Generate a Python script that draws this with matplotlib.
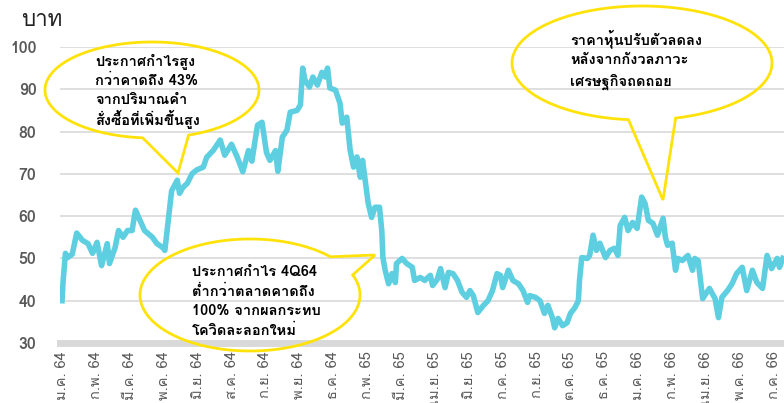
import numpy as np
import matplotlib
matplotlib.use('Agg')
import matplotlib.pyplot as plt
from matplotlib.patches import Polygon

# trading day index and closing price (baht)
days = [0, 1, 3, 5, 9, 13, 18, 23, 27, 31, 35, 40, 42, 47, 50, 54, 58, 62, 65, 69,
        73, 80, 84, 89, 91, 94, 97, 102, 104, 107, 111, 115, 119, 125, 128, 134, 140, 144, 150, 155,
        160, 165, 168, 173, 177, 181, 184, 189, 191, 195, 199, 202, 208, 211, 213, 215, 219, 222, 226, 230,
        233, 235, 237, 242, 246, 248, 252, 255, 258, 261, 264, 266, 271, 274, 277, 281, 283, 284, 286, 289,
        292, 295, 296, 301, 305, 310, 312, 317, 321, 326, 328, 332, 335, 339, 342, 346, 350, 354, 358, 361,
        364, 368, 373, 377, 381, 385, 388, 390, 395, 399, 404, 408, 412, 414, 419, 423, 427, 430, 434, 436,
        439, 443, 447, 450, 454, 457, 458, 460, 465, 467, 470, 473, 476, 481, 485, 489, 492, 494, 498, 501,
        505, 509, 513, 516, 519, 523, 527, 532, 534, 536, 540, 543, 545, 549, 554, 558, 560, 563, 567, 573,
        578, 581, 584, 589, 593, 597, 602, 606, 611, 615, 620, 624, 628, 633, 635, 638]
price = [40.0, 44.8, 51.2, 50.2, 51.0, 56.0, 54.3, 53.5, 51.2, 53.8, 48.3, 53.5, 48.8, 52.6, 56.6, 55.0, 56.6, 56.6, 61.4, 59.0,
         56.6, 55.0, 53.5, 52.6, 51.9, 59.0, 66.0, 68.5, 65.4, 66.8, 67.8, 70.0, 70.9, 71.6, 73.9, 75.6, 78.0, 74.4, 77.0, 74.0,
         70.5, 75.5, 73.0, 81.5, 82.2, 75.0, 73.2, 75.5, 70.6, 78.7, 80.3, 84.6, 85.0, 86.3, 95.0, 92.2, 90.5, 92.9, 91.0, 94.0,
         92.9, 95.0, 90.3, 89.8, 86.7, 82.0, 83.4, 75.6, 71.6, 74.0, 69.2, 73.2, 63.0, 59.7, 62.1, 62.1, 56.6, 50.2, 47.2, 44.0,
         46.4, 44.3, 48.8, 50.0, 48.8, 47.9, 44.8, 45.5, 44.8, 46.0, 43.6, 45.0, 47.6, 43.1, 46.7, 46.4, 44.8, 42.0, 40.8, 42.4,
         41.2, 37.2, 38.9, 40.0, 42.4, 46.4, 46.0, 43.1, 47.2, 44.8, 44.0, 42.4, 39.6, 41.2, 40.8, 40.0, 37.0, 38.9, 36.0, 33.6,
         35.8, 34.1, 34.8, 37.0, 38.4, 40.0, 44.8, 50.2, 50.0, 50.7, 55.5, 51.9, 53.6, 50.2, 51.9, 52.4, 50.7, 57.8, 59.7, 56.6,
         58.5, 57.1, 64.5, 63.0, 59.0, 58.3, 55.5, 59.5, 55.0, 53.1, 53.6, 47.2, 50.0, 49.5, 50.7, 47.2, 50.0, 49.5, 40.5, 42.9,
         40.5, 36.0, 40.8, 42.4, 44.0, 46.4, 47.9, 42.4, 47.2, 44.3, 42.9, 50.7, 47.6, 50.0, 47.9, 50.0]

tick_days = list(range(0, 631, 30))
tick_labels = ['ม.ค. 64', 'ก.พ. 64', 'มี.ค. 64', 'พ.ค. 64', 'มิ.ย. 64', 'ส.ค. 64', 'ก.ย. 64', 'พ.ย. 64',
               'ธ.ค. 64', 'ก.พ. 65', 'มี.ค. 65', 'เม.ย. 65', 'มิ.ย. 65', 'ก.ค. 65', 'ก.ย. 65', 'ต.ค. 65',
               'ธ.ค. 65', 'ม.ค. 66', 'ก.พ. 66', 'เม.ย. 66', 'พ.ค. 66', 'ก.ค. 66']

notes = [
    ['ประกาศกำไรสูง', 'กว่าคาดถึง 43%', 'จากปริมาณคำ', 'สั่งซื้อที่เพิ่มขึ้นสูง'],
    ['ประกาศกำไร 4Q64', 'ต่ำกว่าตลาดคาดถึง', '100% จากผลกระทบ', 'โควิดละลอกใหม่'],
    ['ราคาหุ้นปรับตัวลดลง', 'หลังจากกังวลภาวะ', 'เศรษฐกิจถดถอย'],
]

plt.rcParams['font.family'] = ['Loma', 'DejaVu Sans']

W, H = 784, 403
fig = plt.figure(figsize=(W / 100, H / 100), dpi=100)
ax = fig.add_axes([60 / W, (H - 343) / H, 1 - 60 / W, (343 - 47) / H])

ax.plot(days, price, color='#5DCFE0', lw=4, solid_joinstyle='round', zorder=3)
ax.set_xlim(-1.8, 639)
ax.set_ylim(30, 100)
ax.set_yticks(range(30, 101, 10))
ax.grid(axis='y', color='#d9d9d9', lw=1.2)
ax.axhline(30, color='#d9d9d9', lw=5, clip_on=False, zorder=2)
for s in ax.spines.values():
    s.set_visible(False)
ax.set_xticks(tick_days)
ax.set_xticklabels(tick_labels, rotation=90, va='top', ha='center', fontsize=10.5, color='#595959')
ax.tick_params(axis='x', length=0, pad=6)
ax.tick_params(axis='y', length=0, pad=17, labelsize=11.5, labelcolor='#595959')
for t in ax.get_yticklabels():
    t.set_fontweight('bold')

# overlay in pixel coordinates for the callouts
ov = fig.add_axes([0, 0, 1, 1], facecolor='none')
ov.set_xlim(0, W)
ov.set_ylim(H, 0)
ov.axis('off')

ov.text(21, 21, 'บาท', fontsize=16, color='#222222', va='center', ha='left')


def callout(cx, cy, a, b, t1, t2, tip):
    # ellipse outline from angle t1 round the long way to t2, then the tip
    th = np.radians(np.linspace(t1, t2 + 360 if t2 < t1 else t2, 200))
    pts = np.column_stack([cx + a * np.cos(th), cy + b * np.sin(th)])
    pts = np.vstack([pts, tip])
    ov.add_patch(Polygon(pts, closed=True, fill=False, edgecolor='#FFE20A', lw=2, zorder=5))


callout(152, 90, 107, 48, 95, 70, (178, 173))
callout(250, 295, 110, 56, -21, -43, (375, 255))
callout(642, 63, 130, 57, 96, 75, (663, 200))

for lines, x0, y0, dy in [(notes[0], 95, 62, 19), (notes[1], 192, 272, 19.5), (notes[2], 570, 39, 21.5)]:
    for i, s in enumerate(lines):
        ov.text(x0, y0 + i * dy, s, fontsize=10.5, fontweight='bold', color='black', va='center', ha='left')

fig.savefig('out.png', dpi=100)
